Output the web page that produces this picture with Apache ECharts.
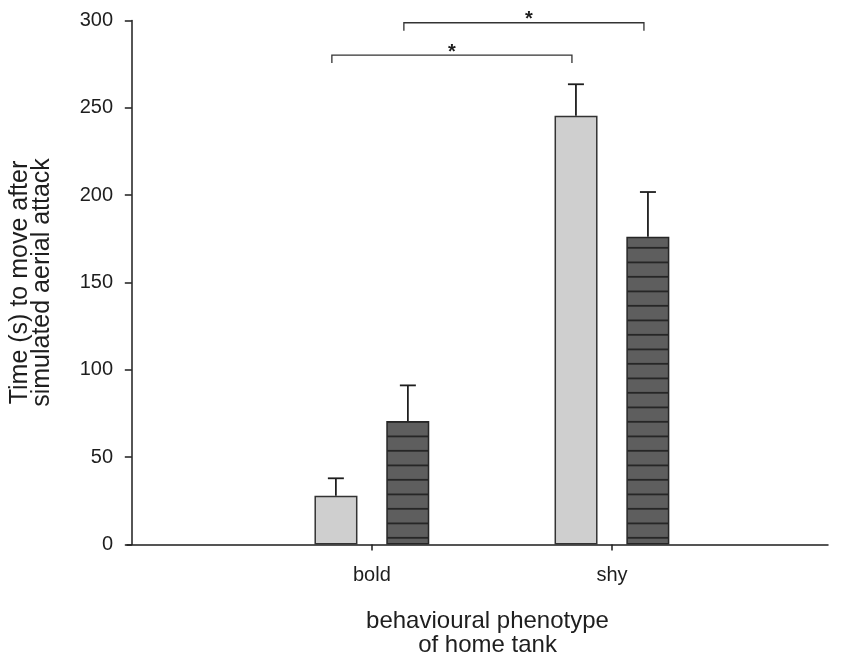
<!DOCTYPE html>
<html>
<head>
<meta charset="utf-8">
<script src="https://cdn.jsdelivr.net/npm/echarts@6/dist/echarts.min.js"></script>
<style>
  html, body { margin: 0; padding: 0; background: #fff; }
  #chart { width: 842px; height: 657px; }
</style>
</head>
<body>
<div id="chart"></div>
<script>
const categories = ["bold", "shy"];
const catPos = [1, 2];
const lightMeans = [27.9, 245.5];
const lightUpper = [37.9, 263.5];
const darkMeans = [70.7, 176.2];
const darkUpper = [91.1, 201.8];
// [from category, to category, which bar (0 light, 1 dark), level, label]
const brackets = [
  [0, 1, 0, 280.2, "*"],
  [0, 1, 1, 298.7, "*"],
];
const yTicks = [0, 50, 100, 150, 200, 250, 300];

const font = "'Liberation Sans', Arial, Helvetica, sans-serif";
const ink = "#1e1e1e";
const barOffset = 36;

// horizontal stripe pattern for the dark bars
const stripe = document.createElement("canvas");
stripe.width = 8;
stripe.height = 29;
const sctx = stripe.getContext("2d");
sctx.fillStyle = "#5e5e5e";
sctx.fillRect(0, 0, 8, 29);
sctx.fillStyle = "#262626";
sctx.fillRect(0, 0.5, 8, 1.8);
sctx.fillRect(0, 14.9, 8, 1.8);

const chart = echarts.init(document.getElementById("chart"), null, { renderer: "canvas" });

const errorData = [];
catPos.forEach((p, i) => {
  errorData.push([p, lightMeans[i], lightUpper[i], -barOffset]);
  errorData.push([p, darkMeans[i], darkUpper[i], barOffset]);
});

const option = {
  animation: false,
  backgroundColor: "#fff",
  grid: { left: 127, right: 14, top: 20.5, bottom: 112.5, containLabel: false, outerBoundsMode: "none" },
  xAxis: {
    type: "value",
    min: -0.02,
    max: 2.9,
    splitLine: { show: false },
    axisLine: { lineStyle: { color: ink, width: 1.5 } },
    axisTick: { show: true, customValues: catPos, length: 6, lineStyle: { color: ink, width: 1.5 } },
    axisLabel: {
      customValues: catPos,
      formatter: (v) => categories[catPos.indexOf(v)] ?? "",
      color: ink, fontFamily: font, fontSize: 20, margin: 21,
    },
    name: "behavioural phenotype\nof home tank",
    nameLocation: "middle",
    nameGap: 65,
    nameTextStyle: { color: ink, fontFamily: font, fontSize: 24, lineHeight: 24, padding: [0, 0, 0, 20] },
  },
  yAxis: {
    type: "value",
    min: 0,
    max: 300,
    interval: 50,
    splitLine: { show: false },
    axisLine: { show: true, lineStyle: { color: ink, width: 1.5 } },
    axisTick: { show: true, length: 7, lineStyle: { color: ink, width: 1.5 } },
    axisLabel: {
      color: ink, fontFamily: font, fontSize: 20, margin: 14,
      formatter: (v) => (yTicks.includes(v) ? String(v) : ""),
    },
    name: "Time (s) to move after\nsimulated aerial attack",
    nameLocation: "middle",
    nameGap: 74,
    nameTextStyle: { color: ink, fontFamily: font, fontSize: 25, lineHeight: 22 },
  },
  series: [
    {
      type: "bar",
      name: "light",
      data: catPos.map((p, i) => [p, lightMeans[i]]),
      barWidth: 43,
      barGap: "67%",
      itemStyle: { color: "#cfcfcf", borderColor: "#333", borderWidth: 1.5 },
    },
    {
      type: "bar",
      name: "dark",
      data: catPos.map((p, i) => [p, darkMeans[i]]),
      barWidth: 43,
      barGap: "67%",
      itemStyle: { color: { image: stripe, repeat: "repeat" }, borderColor: "#262626", borderWidth: 1.5 },
    },
    {
      type: "custom",
      name: "error",
      data: errorData,
      z: 5,
      clip: false,
      renderItem: (params, api) => {
        const base = api.coord([api.value(0), api.value(1)]);
        const top = api.coord([api.value(0), api.value(2)]);
        const x = base[0] + api.value(3);
        return {
          type: "group",
          children: [
            { type: "line", shape: { x1: x, y1: base[1], x2: x, y2: top[1] }, style: { stroke: ink, lineWidth: 1.8 } },
            { type: "line", shape: { x1: x - 8, y1: top[1], x2: x + 8, y2: top[1] }, style: { stroke: ink, lineWidth: 1.8 } },
          ],
        };
      },
    },
    {
      type: "custom",
      name: "brackets",
      data: brackets.map((b) => [catPos[b[0]], catPos[b[1]], b[2], b[3]]),
      z: 5,
      clip: false,
      renderItem: (params, api) => {
        const off = api.value(2) === 0 ? -barOffset - 4 : barOffset - 4;
        const a = api.coord([api.value(0), api.value(3)]);
        const b = api.coord([api.value(1), api.value(3)]);
        const x1 = a[0] + off;
        const x2 = b[0] + off;
        const y = a[1];
        return {
          type: "group",
          children: [
            {
              type: "polyline",
              shape: { points: [[x1, y + 8], [x1, y], [x2, y], [x2, y + 8]] },
              style: { stroke: "#333", lineWidth: 1.3, fill: null },
            },
            {
              type: "text",
              style: {
                text: brackets[params.dataIndex][4],
                x: (x1 + x2) / 2 + (api.value(2) === 0 ? 0 : 5),
                y: y - 3,
                align: "center",
                verticalAlign: "middle",
                font: "bold 20px " + font,
                fill: ink,
              },
            },
          ],
        };
      },
    },
  ],
};

chart.setOption(option);
</script>
</body>
</html>
